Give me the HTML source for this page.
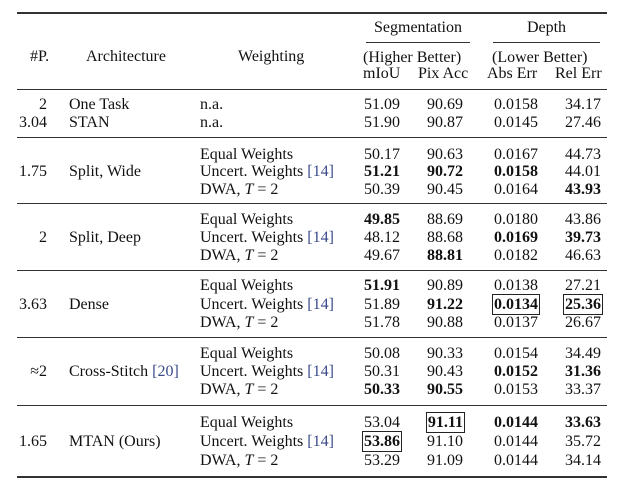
<!DOCTYPE html>
<html><head><meta charset="utf-8"><style>
body{margin:0;width:629px;height:495px;background:#fff;position:relative;overflow:hidden;font-family:"Liberation Serif",serif;font-size:16px;color:#111}
.t{position:absolute;white-space:nowrap;line-height:18px}
.r{text-align:right}
.c{text-align:center}
.h{position:absolute;left:17px;width:590px;background:#333}
b{font-weight:bold}
.bx{outline:1px solid #222;outline-offset:1px}
.ref{color:#3a4a8a}
i{font-style:italic}
</style></head><body>
<div class="h" style="top:12px;height:2px"></div>
<div class="h" style="top:89px;height:1px"></div>
<div class="h" style="top:137px;height:1px"></div>
<div class="h" style="top:203px;height:1px"></div>
<div class="h" style="top:270px;height:1px"></div>
<div class="h" style="top:337px;height:1px"></div>
<div class="h" style="top:405px;height:1px"></div>
<div class="h" style="top:476px;height:2px"></div>
<div style="position:absolute;left:366px;width:104px;top:42px;height:1px;background:#333"></div>
<div style="position:absolute;left:493px;width:107px;top:42px;height:1px;background:#333"></div>

<div class="t c" style="left:366px;width:104px;top:19px">Segmentation</div>
<div class="t c" style="left:493px;width:107px;top:19px">Depth</div>
<div class="t" style="left:30px;top:48px">#P.</div>
<div class="t" style="left:86px;top:48px">Architecture</div>
<div class="t" style="left:238px;top:48px">Weighting</div>
<div class="t" style="left:363px;top:49px">(Higher Better)</div>
<div class="t" style="left:492px;top:49px">(Lower Better)</div>
<div class="t" style="left:363px;top:65px">mIoU</div>
<div class="t" style="left:418px;top:65px">Pix Acc</div>
<div class="t" style="left:487px;top:65px">Abs Err</div>
<div class="t" style="left:555px;top:65px">Rel Err</div>

<div id="rows"></div>
<script>
const rows=[
[96,'2','One Task','n.a.','51.09','90.69','0.0158','34.17'],
[114,'3.04','STAN','n.a.','51.90','90.87','0.0145','27.46'],
[146,'','','Equal Weights','50.17','90.63','0.0167','44.73'],
[163,'1.75','Split, Wide','U','<b>51.21</b>','<b>90.72</b>','<b>0.0158</b>','44.01'],
[181,'','','D','50.39','90.45','0.0164','<b>43.93</b>'],
[211,'','','Equal Weights','<b>49.85</b>','88.69','0.0180','43.86'],
[229,'2','Split, Deep','U','48.12','88.68','<b>0.0169</b>','<b>39.73</b>'],
[247,'','','D','49.67','<b>88.81</b>','0.0182','46.63'],
[277,'','','Equal Weights','<b>51.91</b>','90.89','0.0138','27.21'],
[296,'3.63','Dense','U','51.89','<b>91.22</b>','<b class="bx">0.0134</b>','<b class="bx">25.36</b>'],
[314,'','','D','51.78','90.88','0.0137','26.67'],
[345,'','','Equal Weights','50.08','90.33','0.0154','34.49'],
[363,'≈2','Cross-Stitch <span class="ref">[20]</span>','U','50.31','90.43','<b>0.0152</b>','<b>31.36</b>'],
[381,'','','D','<b>50.33</b>','<b>90.55</b>','0.0153','33.37'],
[414,'','','Equal Weights','53.04','<b class="bx">91.11</b>','<b>0.0144</b>','<b>33.63</b>'],
[433,'1.65','MTAN (Ours)','U','<b class="bx">53.86</b>','91.10','0.0144','35.72'],
[452,'','','D','53.29','91.09','0.0144','34.14']];
let h='';
for(const r of rows){
 let w=r[3]=='U'?'Uncert. Weights <span class="ref">[14]</span>':r[3]=='D'?'DWA, <i>T</i> = 2':r[3];
 h+=`<div class="t r" style="left:10px;width:37px;top:${r[0]}px">${r[1]}</div>`;
 h+=`<div class="t" style="left:69px;top:${r[0]}px">${r[2]}</div>`;
 h+=`<div class="t" style="left:200px;top:${r[0]}px">${w}</div>`;
 h+=`<div class="t r" style="left:340px;width:60px;top:${r[0]}px">${r[4]}</div>`;
 h+=`<div class="t r" style="left:403px;width:60px;top:${r[0]}px">${r[5]}</div>`;
 h+=`<div class="t r" style="left:478px;width:60px;top:${r[0]}px">${r[6]}</div>`;
 h+=`<div class="t r" style="left:541px;width:60px;top:${r[0]}px">${r[7]}</div>`;
}
document.getElementById('rows').innerHTML=h;
</script>
</body></html>
